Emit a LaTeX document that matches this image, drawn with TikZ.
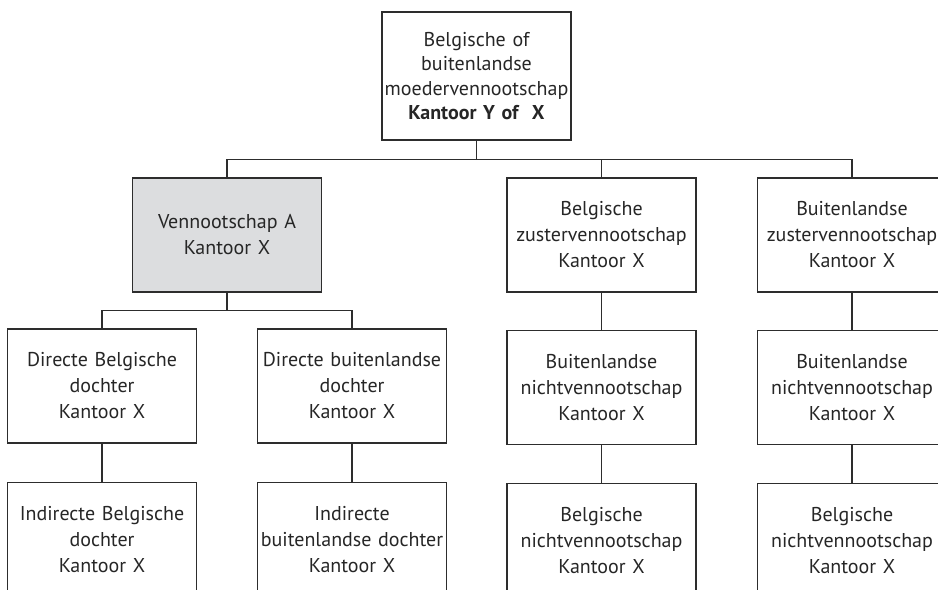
\documentclass[tikz,border=0pt]{standalone}
\usepackage{fontspec}
\setmainfont{PT Sans}
\usetikzlibrary{positioning}
\definecolor{boxgray}{RGB}{220,221,223}
\definecolor{linegray}{RGB}{45,45,45}
\tikzset{
  basic/.style  = {draw=linegray, line width=0.8pt, rectangle, align=center,
                   text width=140pt, inner sep=0pt, text=black!85,
                   font=\fontsize{15}{19.5}\selectfont},
  moeder/.style = {basic, minimum width=141.75pt, minimum height=96pt,
                   font=\fontsize{15}{18.4}\selectfont},
  level 1/.style = {basic, minimum width=141.75pt, minimum height=85.5pt},
  level 2/.style = {level 1},
  level 3/.style = {level 1},
  focus/.style  = {level 1, fill=boxgray}
}

\begin{document}
\begin{tikzpicture}[x=0.75pt, y=-0.75pt, line width=0.8pt, draw=linegray]
\clip (0,0) rectangle (938,589);

% moedervennootschap bovenaan
\node[moeder] (m) at (476.5,76) {Belgische of\\buitenlandse\\moedervennootschap\\\textbf{Kantoor Y of~ X}};

% eerste niveau
\node[focus]   (a)  at (227,235)   {Vennootschap A\\Kantoor X};
\node[level 1] (bz) at (601.5,235) {Belgische\\zustervennootschap\\Kantoor X};
\node[level 1] (uz) at (852,235)   {Buitenlandse\\zustervennootschap\\Kantoor X};

% tweede niveau, relatief geplaatst
\node[level 2] (ad1) at (102,386) {Directe Belgische\\dochter\\Kantoor X};
\node[level 2] (ad2) at (352,386) {Directe buitenlandse\\dochter\\Kantoor X};
\node[level 2, below=27.75pt of bz] (bz1) {Buitenlandse\\nichtvennootschap\\Kantoor X};
\node[level 2, below=27.75pt of uz] (uz1) {Buitenlandse\\nichtvennootschap\\Kantoor X};

% derde niveau
\node[level 3, below=28.5pt of ad1] (ad11) {Indirecte Belgische\\dochter\\Kantoor X};
\node[level 3, below=28.5pt of ad2] (ad21) {Indirecte\\buitenlandse dochter\\Kantoor X};
\node[level 3, below=28.5pt of bz1] (bz11) {Belgische\\nichtvennootschap\\Kantoor X};
\node[level 3, below=28.5pt of uz1] (uz11) {Belgische\\nichtvennootschap\\Kantoor X};

% verbindingen
\draw (m.south) -- ++(0,19) coordinate (bus1);
\draw (a.north) |- (bus1) -| (uz.north);
\draw (bus1) -| (bz.north);
\draw (a.south) -- ++(0,18) coordinate (bus2);
\draw (ad1.north) |- (bus2) -| (ad2.north);
\foreach \top/\bottom in {ad1/ad11, ad2/ad21, bz/bz1, bz1/bz11, uz/uz1, uz1/uz11}
  \draw (\top.south) -- (\bottom.north);
\end{tikzpicture}
\end{document}
